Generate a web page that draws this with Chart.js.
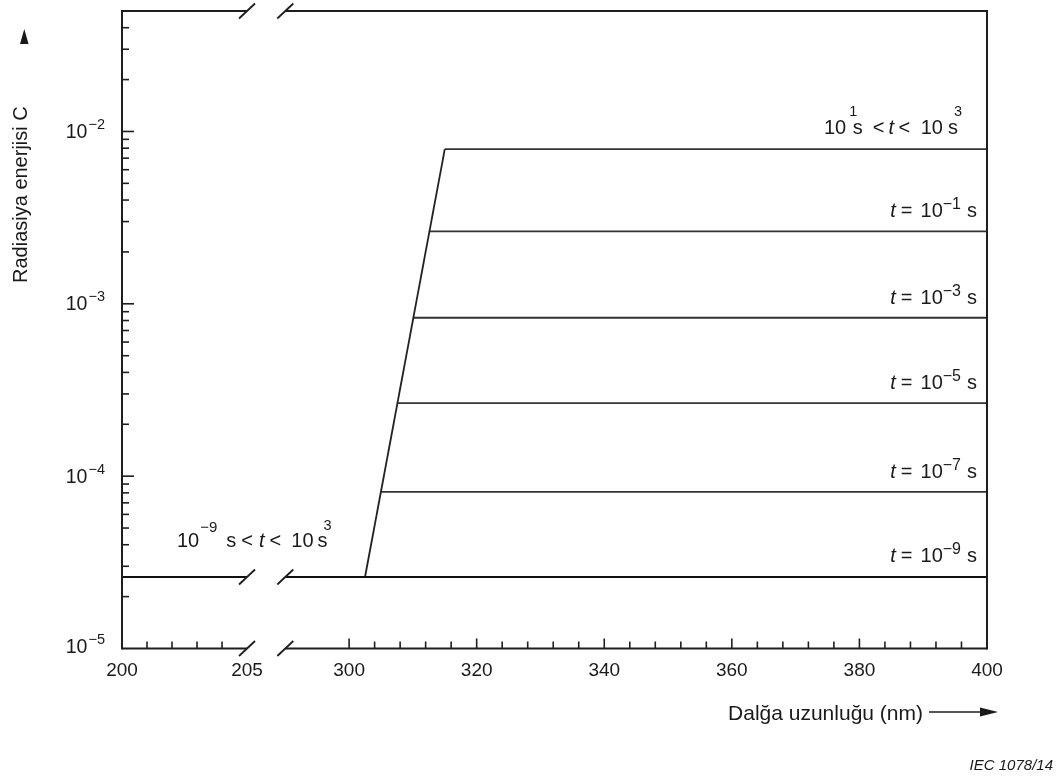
<!DOCTYPE html>
<html><head><meta charset="utf-8">
<script src="https://cdn.jsdelivr.net/npm/chart.js@4"></script>
<style>html,body{margin:0;padding:0;background:#fff;}#wrap{width:1059px;height:778px;position:relative;}</style>
</head><body><div id="wrap"><canvas id="c"></canvas></div>
<script>
// ---------------- data (wavelength in nm, radiant energy C) ----------------
const xSegmentLeft = [200, 205];      // left part of the broken axis
const xSegmentRight = [290, 400];     // right part of the broken axis
const baseLevel = 2.6e-5;             // 10^-9 s < t < 10^3 s
const rampWavelength = [302.5, 315];
const rampEnergy = [2.6e-5, 7.9e-3];
const levelStart = [305, 307.5, 310, 312.5, 315];
const levelEnergy = [8.1e-5, 2.65e-4, 8.3e-4, 2.63e-3, 7.9e-3];
const baseLabelExp = '−9';                          // t = 10^-9 s
const levelLabelExp = ['−7', '−5', '−3', '−1'];     // t = 10^n s
const lowRangeExp = ['−9', '3'];                    // 10^-9 s < t < 10^3 s
const highRangeExp = ['1', '3'];                    // 10^1 s < t < 10^3 s
const xMajorTicks = [200, 205, 300, 320, 340, 360, 380, 400];
const xMinorTicks = [201, 202, 203, 204, 304, 308, 312, 316, 324, 328, 332, 336, 344, 348, 352, 356, 364, 368, 372, 376, 384, 388, 392, 396];
const yMajorTicks = [1e-5, 1e-4, 1e-3, 1e-2];
const yMinorTicks = [2e-5, 3e-5, 4e-5, 5e-5, 6e-5, 7e-5, 8e-5, 9e-5,
                     2e-4, 3e-4, 4e-4, 5e-4, 6e-4, 7e-4, 8e-4, 9e-4,
                     2e-3, 3e-3, 4e-3, 5e-3, 6e-3, 7e-3, 8e-3, 9e-3,
                     2e-2, 3e-2, 4e-2];
const yRange = [1e-5, 5e-2];
const yTitle = 'Radiasiya enerjisi C';
const xTitle = 'Dalğa uzunluğu (nm)';
const figNote = 'IEC 1078/14';

// ---------------- broken-axis mapping ----------------
const LEFT_STRETCH = 3.92;  // the 200–205 nm part is drawn wider
const GAP_U = 25.6;
function toU(nm) {
  return nm <= xSegmentLeft[1] ? (nm - xSegmentLeft[0]) * LEFT_STRETCH : GAP_U + (nm - xSegmentRight[0]);
}

const FONT = '"Liberation Sans", Arial, Helvetica, sans-serif';
const INK = '#1a1a1a';

const seg = (x0, y0, x1, y1) => [{x: toU(x0), y: y0}, {x: toU(x1), y: y1}];
const datasets = [];
datasets.push({data: seg(xSegmentLeft[0], baseLevel, xSegmentLeft[1], baseLevel), borderColor: '#111', borderWidth: 1.8});
datasets.push({data: seg(xSegmentRight[0], baseLevel, xSegmentRight[1], baseLevel), borderColor: '#111', borderWidth: 1.8});
datasets.push({data: seg(rampWavelength[0], rampEnergy[0], rampWavelength[1], rampEnergy[1]), borderColor: '#222', borderWidth: 1.8});
levelStart.forEach((s, i) => {
  datasets.push({data: seg(s, levelEnergy[i], xSegmentRight[1], levelEnergy[i]), borderColor: '#333', borderWidth: 1.8});
});

function fontFor(p) { return (p.it ? 'italic ' : '') + (p.size || 20) + 'px ' + FONT; }
function drawRich(ctx, parts, x, y, align) {
  let w = 0; const m = [];
  parts.forEach(p => { ctx.font = fontFor(p); const pw = ctx.measureText(p.s).width; m.push(pw); w += (p.gap || 0) + pw; });
  let cx = align === 'right' ? x - w : x;
  parts.forEach((p, i) => {
    cx += p.gap || 0; ctx.font = fontFor(p);
    ctx.fillText(p.s, cx, y - (p.rise || 0)); cx += m[i];
  });
}
function tLabel(exp) {
  return [{s: 't', it: true}, {s: '=', gap: 5}, {s: '10', gap: 8}, {s: exp, size: 16, rise: 8}, {s: 's', gap: 6}];
}

const decor = {
  id: 'decor',
  beforeDraw(chart) {
    const {ctx} = chart; ctx.save(); ctx.fillStyle = '#fff'; ctx.fillRect(0, 0, chart.width, chart.height); ctx.restore();
  },
  afterDatasetsDraw(chart) {
    const {ctx, chartArea: a, scales: {x, y}} = chart;
    const px = nm => x.getPixelForValue(toU(nm));
    const py = v => y.getPixelForValue(v);
    const line = (x0, y0, x1, y1) => { ctx.beginPath(); ctx.moveTo(x0, y0); ctx.lineTo(x1, y1); ctx.stroke(); };
    ctx.save();
    ctx.strokeStyle = '#1e1e1e'; ctx.lineWidth = 2; ctx.lineCap = 'butt';
    // frame with axis break
    line(a.left, a.top - 1, a.left, a.bottom + 1);
    line(a.right, a.top - 1, a.right, a.bottom + 1);
    const xb1 = px(xSegmentLeft[1]), xb2 = px(xSegmentRight[0]);
    [a.top, a.bottom].forEach(yy => { line(a.left, yy, xb1, yy); line(xb2, yy, a.right, yy); });
    ctx.lineWidth = 1.8;
    [a.top, a.bottom, py(baseLevel)].forEach(yy => {
      [xb1, xb2].forEach(xx => line(xx - 8, yy + 7.5, xx + 8, yy - 7.5));
    });
    // tick marks (inward)
    ctx.lineWidth = 1.6;
    xMinorTicks.forEach(t => line(px(t), a.bottom, px(t), a.bottom - 7));
    xMajorTicks.forEach(t => { if (t > 290 && t < 400) line(px(t), a.bottom, px(t), a.bottom - 10); });
    yMinorTicks.forEach(v => line(a.left, py(v), a.left + 7, py(v)));
    yMajorTicks.forEach(v => { if (v > yRange[0]) line(a.left, py(v), a.left + 12, py(v)); });
    // y tick labels with superscript exponents
    ctx.fillStyle = INK; ctx.textBaseline = 'alphabetic'; ctx.textAlign = 'left';
    yMajorTicks.forEach(v => {
      const e = Math.round(Math.log10(v));
      const exp = (e < 0 ? '−' : '') + Math.abs(e);
      drawRich(ctx, [{s: '10', size: 19.5}, {s: exp, size: 14.5, rise: 9, gap: 1}], a.left - 17, py(v) + (v === yRange[0] ? 4 : 6.5), 'right');
    });
    // curve labels
    drawRich(ctx, tLabel(baseLabelExp), a.right - 10, py(baseLevel) - 15, 'right');
    levelLabelExp.forEach((exp, i) => drawRich(ctx, tLabel(exp), a.right - 10, py(levelEnergy[i]) - 14, 'right'));
    drawRich(ctx, [{s: '10'}, {s: highRangeExp[0], size: 14.5, rise: 18, gap: 3}, {s: 's', gap: -4.5},
      {s: '<', gap: 10}, {s: 't', it: true, gap: 4}, {s: '<', gap: 4.5}, {s: '10', gap: 10.5}, {s: 's', gap: 5},
      {s: highRangeExp[1], size: 14.5, rise: 18, gap: -4}], a.right - 25, py(levelEnergy[4]) - 15, 'right');
    drawRich(ctx, [{s: '10'}, {s: lowRangeExp[0], size: 15, rise: 15, gap: 1}, {s: 's', gap: 9},
      {s: '<', gap: 5}, {s: 't', it: true, gap: 6}, {s: '<', gap: 5}, {s: '10', gap: 10}, {s: 's', gap: 4},
      {s: lowRangeExp[1], size: 14.5, rise: 17, gap: -4}], a.left + 55, py(baseLevel) - 30, 'left');
    // axis titles
    ctx.font = '21px ' + FONT; ctx.textAlign = 'right';
    ctx.fillText(xTitle, 923, 720);
    ctx.lineWidth = 1.5; line(929, 712, 985, 712);
    ctx.beginPath(); ctx.moveTo(998, 712); ctx.lineTo(980, 707.5); ctx.lineTo(980, 716.5); ctx.closePath(); ctx.fill();
    ctx.save(); ctx.translate(27, 283); ctx.rotate(-Math.PI / 2);
    ctx.font = '20px ' + FONT; ctx.textAlign = 'left'; ctx.fillText(yTitle, 0, 0); ctx.restore();
    ctx.beginPath(); ctx.moveTo(24.3, 29); ctx.lineTo(28.5, 44); ctx.lineTo(20, 44); ctx.closePath(); ctx.fill();
    ctx.font = 'italic 15px ' + FONT; ctx.textAlign = 'right';
    ctx.fillText(figNote, 1053, 770);
    ctx.restore();
  }
};

new Chart(document.getElementById('c'), {
  type: 'line',
  data: {datasets},
  options: {
    responsive: true, maintainAspectRatio: false, animation: false,
    layout: {padding: {left: 122, right: 72, top: 11, bottom: 89.5}},
    plugins: {legend: {display: false}, tooltip: {enabled: false}},
    elements: {point: {radius: 0}, line: {tension: 0}},
    scales: {
      x: {
        type: 'linear', min: 0, max: toU(xSegmentRight[1]),
        grid: {display: false, drawTicks: false}, border: {display: false},
        afterFit: s => { s.height = 40; },
        afterBuildTicks: s => { s.ticks = xMajorTicks.map(nm => ({value: toU(nm), nm, major: true})); },
        ticks: {autoSkip: false, maxRotation: 0, padding: 11, color: INK, font: {family: FONT, size: 19},
          callback: (v, i, t) => String(t[i].nm)}
      },
      y: {
        type: 'logarithmic', min: yRange[0], max: yRange[1],
        grid: {display: false, drawTicks: false}, border: {display: false},
        afterFit: s => { s.width = 0; },
        afterBuildTicks: s => { s.ticks = yMajorTicks.concat(yMinorTicks).sort((p, q) => p - q).map(v => ({value: v})); },
        ticks: {display: false}
      }
    }
  },
  plugins: [decor]
});
</script></body></html>
